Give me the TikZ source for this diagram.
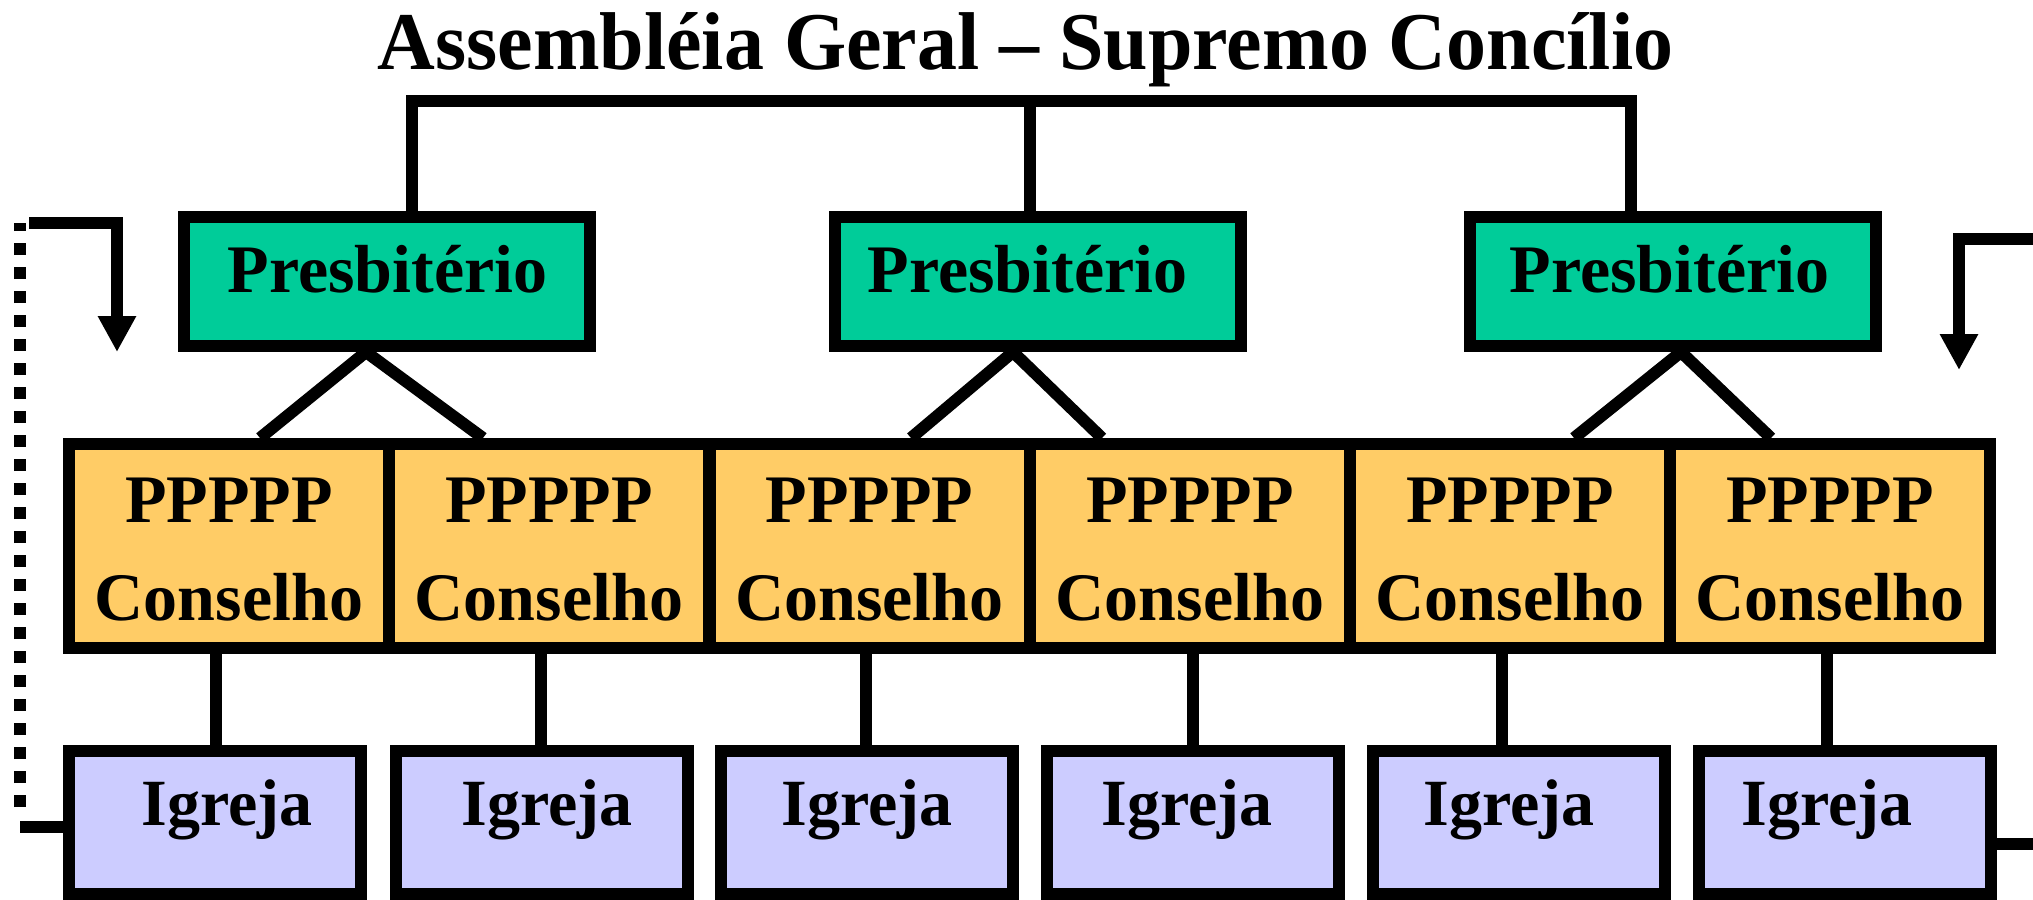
\documentclass[tikz,border=0pt]{standalone}
\usepackage{fontspec}
\setmainfont{Liberation Serif}
\usetikzlibrary{arrows.meta,calc}
\definecolor{pgreen}{RGB}{0,204,153}
\definecolor{corange}{RGB}{255,204,102}
\definecolor{ilav}{RGB}{204,204,255}
\pgfdeclarelayer{bg}
\pgfsetlayers{bg,main}
\begin{document}
\begin{tikzpicture}[x=0.5pt,y=-0.5pt,
  boxbase/.style={draw=black,line width=6pt,inner sep=0pt},
  pbox/.style={boxbase,fill=pgreen,minimum width=203pt,minimum height=64.5pt},
  cbox/.style={boxbase,fill=corange,minimum width=160pt,minimum height=101.75pt},
  ibox/.style={boxbase,fill=ilav,minimum width=146pt,minimum height=71.5pt},
  lbl/.style={inner sep=0pt,anchor=base,font=\bfseries\fontsize{34}{40}\selectfont},
  ilbl/.style={lbl,font=\bfseries\fontsize{33}{40}\selectfont},
  ttl/.style={inner sep=0pt,anchor=base,xscale=0.975,font=\bfseries\fontsize{41}{48}\selectfont},
  conn/.style={line width=6pt,line join=miter},
  dotline/.style={line width=6pt,dash pattern=on 6pt off 6pt},
  arr/.style={conn,-{Triangle[width=18pt,length=18pt]}}
]
\useasboundingbox (0,0) rectangle (2033,899);

% title
\node[ttl] (title) at (1025.5,70) {Assembléia Geral – Supremo Concílio};

% presbiterio boxes
\node[pbox] (p1) at (387,281.5) {};
\node[pbox] (p2) at (1038,281.5) {};
\node[pbox] (p3) at (1673,281.5) {};
\node[lbl] (pt1) at (387.5,292) {Presbitério};
\node[lbl] (pt2) at (1027.5,292) {Presbitério};
\node[lbl] (pt3) at (1669.5,292) {Presbitério};

% conselho boxes
\foreach \n/\x in {1/229,2/549,3/869.5,4/1190,5/1510,6/1830}{
  \node[cbox] (c\n) at (\x,545.75) {};
  \node[lbl] (cp\n) at (\x,522) {PPPPP};
  \node[lbl] (cc\n) at (\x,620) {Conselho};
}

% igreja boxes
\foreach \n/\x/\t in {1/215/227,2/542/547,3/867/867,4/1193/1187,5/1519/1509,6/1845/1827}{
  \node[ibox] (i\n) at (\x,822.5) {};
  \node[ilbl] (it\n) at (\t,825) {Igreja};
}

% named free ends
\coordinate (tl) at (412,101.5);
\coordinate (tm) at (1030,101.5);
\coordinate (tr) at (1631,101.5);
\coordinate (dtop) at (20,223);
\coordinate (dbot) at (20,807);
\coordinate (lb) at (20,827);
\coordinate (rb) at (2033,844);
\coordinate (la0) at (29,223);
\coordinate (la1) at (117,352);
\coordinate (ra0) at (2033,239);
\coordinate (ra1) at (1959,370);

\begin{pgfonlayer}{bg}
  % top bracket
  \draw[conn] (p1.north -| tl) -- (tl) -- (tr) -- (p3.north -| tr);
  \draw[conn] (p2.north -| tm) -- (tm);
  % presbiterio to conselho
  \draw[conn] ($(c1.north)+(31,0)$) -- ($(p1.south)+(-21,0)$) -- ($(c2.north)+(-66,0)$);
  \draw[conn] ($(c3.north)+(41.5,0)$) -- ($(p2.south)+(-25,0)$) -- ($(c4.north)+(-88,0)$);
  \draw[conn] ($(c5.north)+(64,0)$) -- ($(p3.south)+(8,0)$) -- ($(c6.north)+(-59,0)$);
  % conselho to igreja
  \draw[conn] ($(i1.north)+(1,0)$) coordinate (k1) -- (k1 |- c1.south);
  \draw[conn] ($(i2.north)+(-1,0)$) coordinate (k2) -- (k2 |- c2.south);
  \draw[conn] ($(i3.north)+(-1,0)$) coordinate (k3) -- (k3 |- c3.south);
  \draw[conn] (i4.north) -- (i4.north |- c4.south);
  \draw[conn] ($(i5.north)+(-17,0)$) coordinate (k5) -- (k5 |- c5.south);
  \draw[conn] ($(i6.north)+(-18,0)$) coordinate (k6) -- (k6 |- c6.south);
  % side lines
  \draw[conn] (lb) -- (lb -| i1.west);
  \draw[conn] (i6.east |- rb) -- (rb);
\end{pgfonlayer}

\draw[dotline] (dbot) -- (dtop);
\draw[arr] (la0) -| (la1);
\draw[arr] (ra0) -| (ra1);
\end{tikzpicture}
\end{document}
